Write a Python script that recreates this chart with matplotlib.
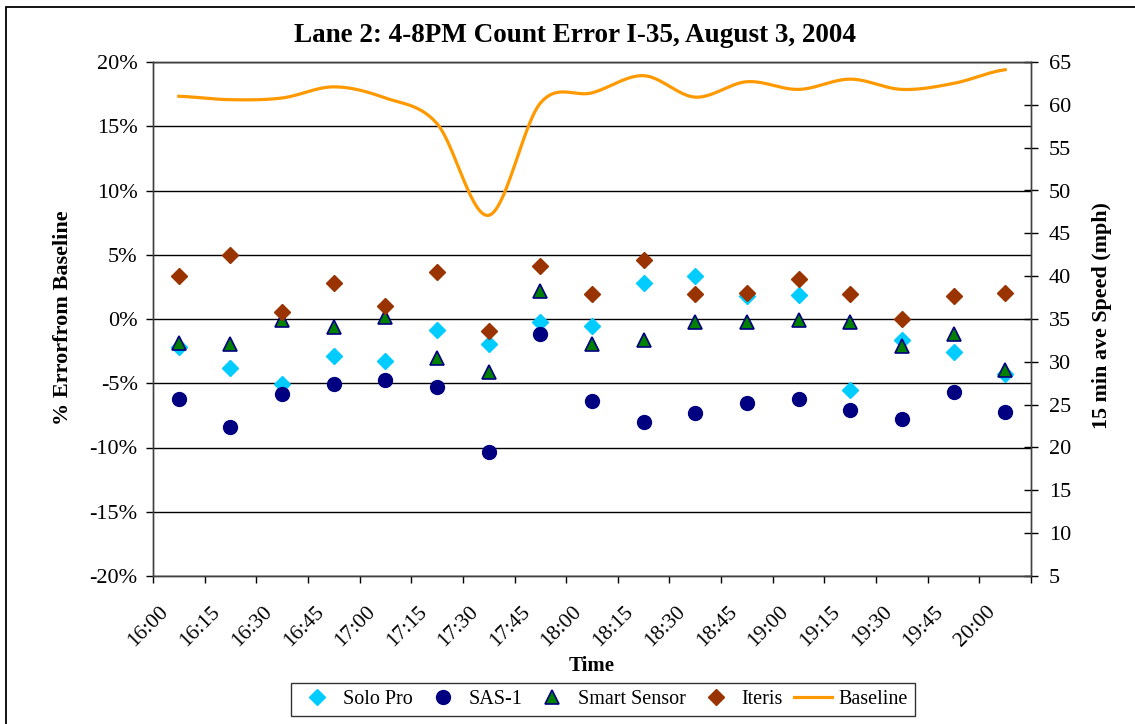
import matplotlib

matplotlib.use("Agg")
import matplotlib.pyplot as plt
import matplotlib.transforms as mtransforms
import numpy as np
from matplotlib.lines import Line2D
from matplotlib.patches import Rectangle

# --- data ---
times = ["16:00", "16:15", "16:30", "16:45", "17:00", "17:15", "17:30", "17:45", "18:00",
         "18:15", "18:30", "18:45", "19:00", "19:15", "19:30", "19:45", "20:00"]
solo_pro = [-2.2, -3.8, -5.05, -2.9, -3.25, -0.86, -1.98, -0.21, -0.55,
            2.8, 3.38, 1.77, 1.84, -5.55, -1.67, -2.6, -4.27]
sas1 = [-6.25, -8.4, -5.8, -5.05, -4.74, -5.26, -10.37, -1.15, -6.36,
        -8.0, -7.32, -6.56, -6.25, -7.11, -7.77, -5.7, -7.22]
smart_sensor = [-1.83, -1.93, -0.1, -0.63, 0.15, -3.0, -4.1, 2.2, -1.93,
                -1.6, -0.26, -0.26, -0.05, -0.26, -2.08, -1.15, -4.0]
iteris = [3.36, 4.97, 0.57, 2.8, 0.98, 3.67, -0.97, 4.1, 1.95,
          4.63, 1.95, 2.05, 3.13, 1.95, 0.0, 1.82, 2.05]
baseline_speed = [61.0, 60.6, 60.8, 62.1, 60.8, 57.8, 47.1, 60.2, 61.4,
                  63.4, 60.9, 62.7, 61.8, 63.0, 61.8, 62.5, 64.1]

left_ticks = [-20, -15, -10, -5, 0, 5, 10, 15, 20]
right_ticks = [5, 10, 15, 20, 25, 30, 35, 40, 45, 50, 55, 60, 65]


def catmull_rom(y, steps=24):
    """Smoothed path through the points, like the spreadsheet's smoothed line."""
    y = np.asarray(y, dtype=float)
    p = np.concatenate([[y[0]], y, [y[-1]]])
    xs, ys = [], []
    t = np.linspace(0, 1, steps, endpoint=False)
    for i in range(len(y) - 1):
        p0, p1, p2, p3 = p[i], p[i + 1], p[i + 2], p[i + 3]
        seg = 0.5 * (2 * p1 + (-p0 + p2) * t + (2 * p0 - 5 * p1 + 4 * p2 - p3) * t ** 2
                     + (-p0 + 3 * p1 - 3 * p2 + p3) * t ** 3)
        xs.append(i + t)
        ys.append(seg)
    xs.append([len(y) - 1])
    ys.append([y[-1]])
    return np.concatenate(xs), np.concatenate(ys)


plt.rcParams["font.family"] = ["Liberation Serif", "DejaVu Serif"]

W, H = 1135, 724
fig = plt.figure(figsize=(W / 100, H / 100), dpi=100)
ax = fig.add_axes([153 / W, 1 - 576 / H, (1031 - 153) / W, (576 - 62) / H])
ax2 = ax.twinx()

# outer chart border
fig.patches.append(Rectangle((6 / W, -0.1), 1.2, (1 - 7 / H) + 0.1, transform=fig.transFigure,
                             fill=False, edgecolor="black", linewidth=1.3))

x = np.arange(len(times))

# scatter series on the left axis
ax.plot(x, solo_pro, linestyle="none", marker="D", ms=8, color="#00CCFF", mec="#00CCFF", zorder=3)
ax.plot(x, sas1, linestyle="none", marker="o", ms=10, color="#000080", mec="#000080", zorder=3)
ax.plot(x, smart_sensor, linestyle="none", marker="^", ms=10.5, color="#008000", mec="#000080",
        mew=1.2, zorder=4)
ax.plot(x, iteris, linestyle="none", marker="D", ms=8, color="#993300", mec="#993300", zorder=5)

# baseline speed on the right axis
sx, sy = catmull_rom(baseline_speed)
ax2.plot(sx, sy, color="#FF9900", lw=2.3)

ax.set_ylim(-20, 20)
ax.set_xlim(-0.5, len(times) - 0.5)
ax2.set_ylim(5, 65)
ax.set_yticks(left_ticks)
ax.set_yticklabels([f"{v}%" for v in left_ticks])
ax2.set_yticks(right_ticks)
ax.grid(axis="y", color="black", linewidth=1.0)
ax.set_axisbelow(True)

# category axis: ticks on the boundaries, labels in the middle
ax.set_xticks(np.arange(len(times) + 1) - 0.5)
ax.set_xticklabels([])
ax.set_xticks(x, minor=True)
ax.set_xticklabels(times, minor=True, rotation=45, ha="right", va="top")
ax.tick_params(axis="x", which="major", direction="out", length=5, width=1)
ax.tick_params(axis="x", which="minor", length=0, pad=19, labelsize=15.5)
offset = mtransforms.ScaledTranslation(-6 / 100, 0, fig.dpi_scale_trans)
for lab in ax.get_xticklabels(minor=True):
    lab.set_transform(lab.get_transform() + offset)

ax.tick_params(axis="y", direction="out", length=5, width=1, pad=6, labelsize=16)
ax2.tick_params(axis="y", direction="inout", length=10, width=1, pad=8, labelsize=16)

for a in (ax, ax2):
    for s in a.spines.values():
        s.set_color("#404040")
        s.set_linewidth(1.0)

fig.text(575 / W, 1 - 35 / H, "Lane 2: 4-8PM Count Error I-35, August 3, 2004",
         ha="center", va="center", fontsize=19.5, fontweight="bold")
fig.text(63 / W, 1 - 318 / H, "% Errorfrom Baseline", rotation=90,
         ha="center", va="center", fontsize=16, fontweight="bold")
fig.text(1102 / W, 1 - 316 / H, "15 min ave Speed (mph)", rotation=90,
         ha="center", va="center", fontsize=15.8, fontweight="bold")
fig.text(592 / W, 1 - 666 / H, "Time", ha="center", va="center", fontsize=15, fontweight="bold")

handles = [
    Line2D([], [], linestyle="none", marker="D", ms=8, color="#00CCFF"),
    Line2D([], [], linestyle="none", marker="o", ms=10, color="#000080"),
    Line2D([], [], linestyle="none", marker="^", ms=10.5, color="#008000", mec="#000080", mew=1.2),
    Line2D([], [], linestyle="none", marker="D", ms=8, color="#993300"),
    Line2D([], [], color="#FF9900", lw=2.3),
]
labels = ["Solo Pro", "SAS-1", "Smart Sensor", "Iteris", "Baseline"]
leg = fig.legend(handles, labels, ncol=5, loc="center", bbox_to_anchor=(603 / W, 1 - 699.5 / H),
                 fontsize=14.5, frameon=True, fancybox=False, edgecolor="black",
                 handlelength=1.9, handletextpad=0.32, columnspacing=0.55, borderpad=0.35,
                 borderaxespad=0)
leg.get_frame().set_linewidth(1.0)

fig.savefig("out.png", dpi=100)
